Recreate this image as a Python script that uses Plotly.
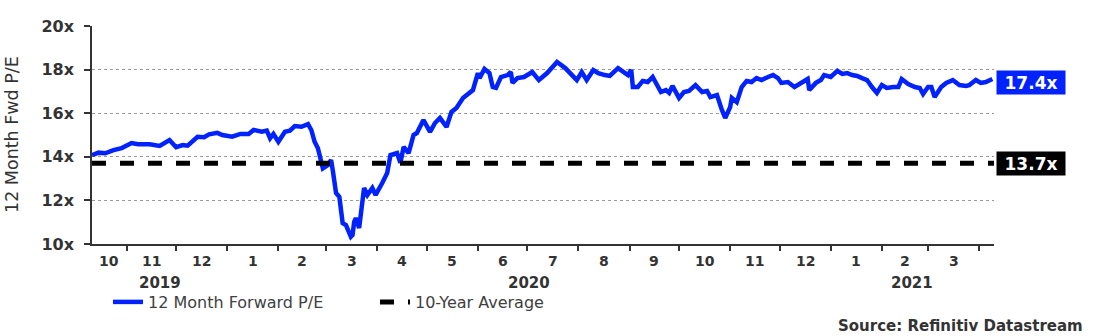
import plotly.graph_objects as go
import pandas as pd

# ---------------- data ----------------
dates = [
    "2019-10-11", "2019-10-15", "2019-10-19", "2019-10-24", "2019-10-29",
    "2019-11-04", "2019-11-08", "2019-11-15", "2019-11-21", "2019-11-27",
    "2019-12-01", "2019-12-05", "2019-12-08", "2019-12-14", "2019-12-18",
    "2019-12-21", "2019-12-26", "2019-12-29",
    "2020-01-04", "2020-01-09", "2020-01-14", "2020-01-17", "2020-01-22",
    "2020-01-25", "2020-01-27", "2020-01-29",
    "2020-02-01", "2020-02-05", "2020-02-08", "2020-02-11", "2020-02-15",
    "2020-02-19", "2020-02-21", "2020-02-23", "2020-02-25", "2020-02-28",
    "2020-03-02", "2020-03-04", "2020-03-05", "2020-03-07", "2020-03-09",
    "2020-03-11", "2020-03-13", "2020-03-16", "2020-03-17", "2020-03-18",
    "2020-03-19", "2020-03-21", "2020-03-24", "2020-03-26", "2020-03-29",
    "2020-03-31",
    "2020-04-04", "2020-04-07", "2020-04-09", "2020-04-13", "2020-04-15",
    "2020-04-17", "2020-04-20", "2020-04-23", "2020-04-25", "2020-04-29",
    "2020-05-03", "2020-05-06", "2020-05-09", "2020-05-13", "2020-05-16",
    "2020-05-19", "2020-05-23", "2020-05-27", "2020-05-29",
    "2020-06-01", "2020-06-02", "2020-06-05", "2020-06-08", "2020-06-10",
    "2020-06-12", "2020-06-15", "2020-06-19", "2020-06-21", "2020-06-22",
    "2020-06-25", "2020-06-29",
    "2020-07-04", "2020-07-08", "2020-07-13", "2020-07-16", "2020-07-19",
    "2020-07-24", "2020-07-27", "2020-07-31",
    "2020-08-03", "2020-08-06", "2020-08-10", "2020-08-13", "2020-08-17",
    "2020-08-20", "2020-08-25", "2020-08-31",
    "2020-09-02", "2020-09-03", "2020-09-06", "2020-09-09", "2020-09-12",
    "2020-09-15", "2020-09-20", "2020-09-23", "2020-09-25", "2020-09-27",
    "2020-10-01", "2020-10-04", "2020-10-07", "2020-10-11", "2020-10-15",
    "2020-10-18", "2020-10-20", "2020-10-24", "2020-10-27", "2020-10-29",
    "2020-11-01", "2020-11-02", "2020-11-05", "2020-11-08", "2020-11-11",
    "2020-11-14", "2020-11-17", "2020-11-20", "2020-11-24", "2020-11-27",
    "2020-11-30",
    "2020-12-02", "2020-12-06", "2020-12-10", "2020-12-15", "2020-12-18",
    "2020-12-19", "2020-12-23", "2020-12-26", "2020-12-28",
    "2021-01-01", "2021-01-05", "2021-01-08", "2021-01-11", "2021-01-14",
    "2021-01-17", "2021-01-20", "2021-01-23", "2021-01-26", "2021-01-29",
    "2021-02-01", "2021-02-04", "2021-02-08", "2021-02-11", "2021-02-13",
    "2021-02-17", "2021-02-21", "2021-02-24", "2021-02-26",
    "2021-03-01", "2021-03-03", "2021-03-05", "2021-03-09", "2021-03-12",
    "2021-03-16", "2021-03-20", "2021-03-24", "2021-03-26", "2021-03-30",
    "2021-04-02", "2021-04-05", "2021-04-09",
]
fwd_pe = [
    14.08, 14.19, 14.16, 14.31, 14.40,
    14.63, 14.58, 14.58, 14.50, 14.77,
    14.44, 14.54, 14.51, 14.92, 14.90,
    15.03, 15.10, 15.00,
    14.92, 15.05, 15.05, 15.23, 15.15,
    15.20, 14.85, 15.05,
    14.69, 15.15, 15.20, 15.41, 15.38,
    15.50, 15.23, 14.69, 14.39, 13.47,
    13.62, 13.85, 13.39, 12.34, 12.16,
    10.96, 10.87, 10.33, 10.41, 11.02,
    11.19, 10.73, 12.57, 12.25, 12.57,
    12.25,
    12.80, 13.26, 14.08, 14.17, 13.72,
    14.45, 14.17, 15.00, 15.09, 15.69,
    15.14, 15.55, 15.78, 15.37, 16.06,
    16.24, 16.70, 16.93, 17.06,
    17.84, 17.61, 18.03, 17.84, 17.20,
    17.16, 17.66, 17.75, 17.89, 17.39,
    17.61, 17.66,
    17.89, 17.52, 17.84, 18.12, 18.35,
    18.07, 17.84, 17.52,
    17.89, 17.52, 17.98, 17.84, 17.75,
    17.71, 18.07, 17.75,
    17.98, 17.20, 17.20, 17.48, 17.43,
    17.66, 16.97, 17.06, 16.93, 17.25,
    16.70, 16.97, 17.02, 17.29, 16.97,
    17.02, 16.74, 16.83, 16.15, 15.78,
    16.28, 16.70, 16.51, 17.20, 17.48,
    17.43, 17.61, 17.52, 17.66, 17.75,
    17.61,
    17.39, 17.43, 17.20, 17.43, 17.57,
    17.06, 17.39, 17.52, 17.75,
    17.66, 17.94, 17.80, 17.84, 17.75,
    17.71, 17.61, 17.52, 17.20, 16.93,
    17.29, 17.16, 17.20, 17.20, 17.57,
    17.34, 17.20, 17.16, 16.88,
    17.20, 17.20, 16.74, 17.20, 17.39,
    17.52, 17.29, 17.25, 17.29, 17.52,
    17.39, 17.43, 17.57,
]
ten_year_avg = 13.7
latest_pe = 17.4
x_range = ["2019-10-11", "2021-04-10"]
y_ticks = [10, 12, 14, 16, 18, 20]
y_tick_text = ["10x", "12x", "14x", "16x", "18x", "20x"]

series_name = "12 Month Forward P/E"
avg_name = "10-Year Average"
y_title = "12 Month Fwd P/E"
source_text = "Source: Refinitiv Datastream"

# ---------------- style ----------------
BLUE = "#0022FF"
TXT = "#333333"
FONT = "DejaVu Sans"

fig = go.Figure()
fig.add_trace(go.Scatter(
    x=dates, y=fwd_pe, mode="lines", name=series_name,
    line=dict(color=BLUE, width=4.5),
))
fig.add_trace(go.Scatter(
    x=x_range, y=[ten_year_avg, ten_year_avg], mode="lines", name=avg_name,
    line=dict(color="black", width=5, dash="14px,14px"),
))

annotations = []

# month labels centred in visible part of each month
x0 = pd.Timestamp(x_range[0])
x1 = pd.Timestamp(x_range[1])
month_starts = pd.date_range("2019-10-01", "2021-05-01", freq="MS")
for a, b in zip(month_starts[:-1], month_starts[1:]):
    lo, hi = max(a, x0), min(b, x1)
    if (hi - lo).days < 15:
        continue
    mid = lo + (hi - lo) / 2
    annotations.append(dict(
        x=mid, y=0, xref="x", yref="paper", yshift=-17, yanchor="middle",
        text=str(a.month), showarrow=False,
        font=dict(family=FONT, size=14, color=TXT, weight="bold"),
    ))
# year labels
for yr in [2019, 2020, 2021]:
    lo = max(pd.Timestamp(f"{yr}-01-01"), x0)
    hi = min(pd.Timestamp(f"{yr + 1}-01-01"), x1)
    mid = lo + (hi - lo) / 2
    annotations.append(dict(
        x=mid, y=0, xref="x", yref="paper", yshift=-39, yanchor="middle",
        text=str(yr), showarrow=False,
        font=dict(family=FONT, size=15, color=TXT, weight="bold"),
    ))

# value boxes on the right
for val, col in [(latest_pe, BLUE), (ten_year_avg, "black")]:
    annotations.append(dict(
        x=1, y=val, xref="paper", yref="y", xanchor="left", yanchor="middle",
        xshift=2, text=f"{val:.1f}x", showarrow=False,
        bgcolor=col, width=66, height=21, borderpad=1,
        font=dict(family=FONT, size=17, color="white", weight="bold"),
    ))
# y axis title
annotations.append(dict(
    x=0, y=0.5, xref="paper", yref="paper", xanchor="center", yanchor="middle",
    xshift=-80, text=y_title, textangle=-90, showarrow=False,
    font=dict(family=FONT, size=17.5, color=TXT),
))
# source (plot bottom at 244 px, plot height 218 px, width 902 px)
annotations.append(dict(
    x=(1085 - 92) / 902, y=-(326 - 244) / 218, xref="paper", yref="paper",
    xanchor="right", yanchor="middle", text=source_text, showarrow=False,
    font=dict(family=FONT, size=15, color=TXT, weight="bold"),
))

fig.update_layout(
    width=1099, height=336,
    margin=dict(l=92, r=105, t=26, b=92),
    plot_bgcolor="white", paper_bgcolor="white",
    font=dict(family=FONT, color=TXT),
    showlegend=True,
    legend=dict(
        orientation="h", xref="container", yref="container",
        x=108 / 1099, y=34 / 336, xanchor="left", yanchor="middle",
        font=dict(family=FONT, size=16, color="#404040"),
        entrywidth=222, entrywidthmode="pixels",
        bgcolor="rgba(0,0,0,0)",
    ),
    xaxis=dict(
        type="date", range=x_range,
        tickmode="array",
        tickvals=[d for d in month_starts if x0 < d < x1],
        ticktext=["" for d in month_starts if x0 < d < x1],
        ticks="outside", ticklen=5, tickwidth=1.5, tickcolor="#333",
        showline=True, linecolor="#333", linewidth=1.5,
        showgrid=False, zeroline=False,
    ),
    yaxis=dict(
        range=[10, 20], tickmode="array", tickvals=y_ticks, ticktext=y_tick_text,
        ticks="outside", ticklen=6, tickwidth=1.5, tickcolor="#333",
        ticklabelstandoff=7,
        tickfont=dict(family=FONT, size=16, color=TXT, weight="bold"),
        showline=True, linecolor="#333", linewidth=1.5,
        showgrid=True, gridcolor="#9a9a9a", gridwidth=1, griddash="dot",
        zeroline=False,
    ),
    annotations=annotations,
)

fig.write_html("out.html")
